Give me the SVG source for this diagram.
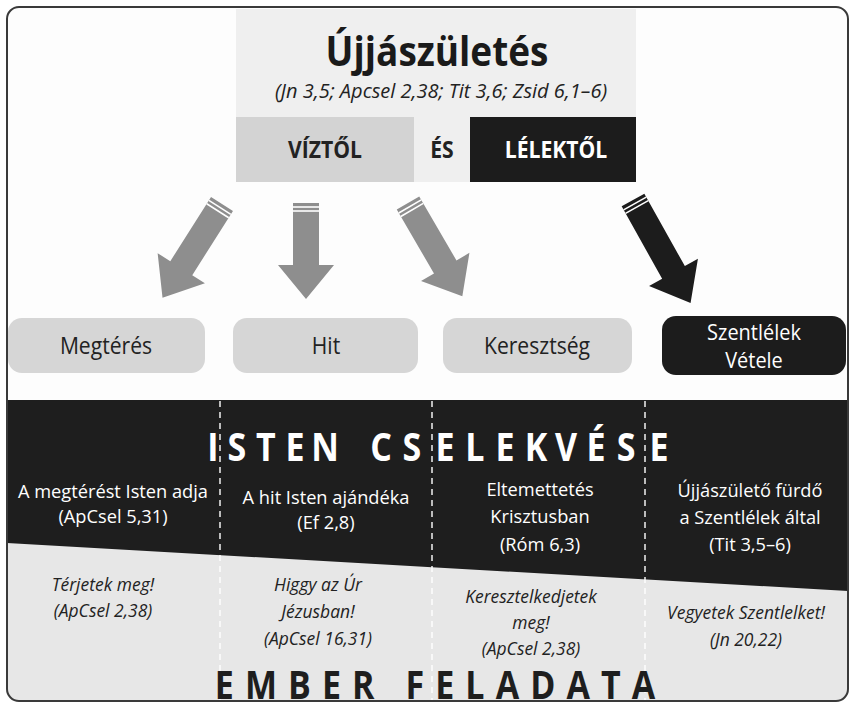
<svg xmlns="http://www.w3.org/2000/svg" width="854" height="704" viewBox="0 0 854 704">
<style>
text{font-family:"Open Sans","Noto Sans",sans-serif;text-anchor:middle}
.t{font-size:42px;font-weight:bold;fill:#1a1a1a}
.sub{font-size:20px;font-style:italic;fill:#222}
.hd{font-size:24px;font-weight:bold}
.nd{font-size:24px;fill:#222}
.ndw{font-size:21px;fill:#fff}
.w{font-size:19px;fill:#fff}
.k{font-size:19px;font-style:italic;fill:#222}
.big{font-size:40px;font-weight:bold}
.gray{fill:#8e8e8e}
.blk{fill:#1c1c1c}
.stripe{stroke:#fff;stroke-width:1.6}
.dash{stroke:#fff;stroke-width:1.4;stroke-dasharray:6 5;fill:none}
</style>
<rect x="0" y="0" width="854" height="704" fill="#fff"/>
<defs>
<clipPath id="fr"><rect x="7" y="7" width="841" height="694" rx="12"/></clipPath>
</defs>
<g id="background" clip-path="url(#fr)">
<rect x="7" y="7" width="841" height="694" fill="#fdfdfd"/>
<polygon points="7,400 848,400 848,702 7,702" fill="#e7e7e7"/>
<polygon points="7,400 848,400 848,591 7,543" fill="#1e1e1e"/>
</g>
<rect x="7" y="7" width="841" height="694" rx="12" fill="none" stroke="#3a3a3a" stroke-width="2"/>

<g id="title">
<rect x="236" y="9" width="400" height="173" fill="#efefef"/>
<text class="t" transform="translate(437,66) scale(0.88,1)">Újjászületés</text>
<text class="sub" x="441" y="98">(Jn 3,5; Apcsel 2,38; Tit 3,6; Zsid 6,1–6)</text>
</g>
<g id="viztol">
<rect x="236" y="117" width="178" height="65" fill="#d3d3d3"/>
<text class="hd" fill="#222" transform="translate(325,158) scale(0.88,1)">VÍZTŐL</text>
</g>
<g id="es"><text class="hd" fill="#222" transform="translate(442,158) scale(0.88,1)">ÉS</text></g>
<g id="lelektol">
<rect x="470" y="117" width="166" height="65" fill="#1c1c1c"/>
<text class="hd" fill="#fff" transform="translate(556,158) scale(0.88,1)">LÉLEKTŐL</text>
</g>

<g id="connectors">
<g transform="translate(222,204) rotate(32.4)">
<polygon class="gray" points="-13,0 13,0 13,76 28,76 0,111 -28,76 -13,76"/>
<line class="stripe" x1="-13" y1="4" x2="13" y2="4"/><line class="stripe" x1="-13" y1="8" x2="13" y2="8"/>
</g>
<g transform="translate(306,203)">
<polygon class="gray" points="-13,0 13,0 13,62 28,62 0,96 -28,62 -13,62"/>
<line class="stripe" x1="-13" y1="4" x2="13" y2="4"/><line class="stripe" x1="-13" y1="8" x2="13" y2="8"/>
</g>
<g transform="translate(408,203) rotate(-30.2)">
<polygon class="gray" points="-13,0 13,0 13,74 28,74 0,108 -28,74 -13,74"/>
<line class="stripe" x1="-13" y1="4" x2="13" y2="4"/><line class="stripe" x1="-13" y1="8" x2="13" y2="8"/>
</g>
<g transform="translate(633,200) rotate(-29.2)">
<polygon class="blk" points="-13,0 13,0 13,83 28,83 0,118 -28,83 -13,83"/>
<line class="stripe" x1="-13" y1="4" x2="13" y2="4"/><line class="stripe" x1="-13" y1="8" x2="13" y2="8"/>
</g>
</g>

<g id="megteres">
<rect x="8" y="318" width="197" height="55" rx="14" fill="#d6d6d6"/>
<text class="nd" transform="translate(106,354) scale(0.88,1)">Megtérés</text>
</g>
<g id="hit">
<rect x="233" y="318" width="185" height="55" rx="14" fill="#d6d6d6"/>
<text class="nd" transform="translate(326,354) scale(0.88,1)">Hit</text>
</g>
<g id="keresztseg">
<rect x="443" y="318" width="189" height="55" rx="14" fill="#d6d6d6"/>
<text class="nd" transform="translate(537,354) scale(0.88,1)">Keresztség</text>
</g>
<g id="szentlelek">
<rect x="662" y="316" width="184" height="59" rx="14" fill="#1c1c1c"/>
<text class="ndw" transform="translate(754,0) scale(0.95,1)"><tspan x="0" y="340">Szentlélek</tspan><tspan x="0" y="368">Vétele</tspan></text>
</g>

<g id="dividers">
<line class="dash" x1="220" y1="401" x2="220" y2="700"/>
<line class="dash" x1="432" y1="401" x2="432" y2="700"/>
<line class="dash" x1="645" y1="401" x2="645" y2="700"/>
</g>

<g id="isten">
<text class="big" fill="#fff" transform="translate(0,461) scale(0.85,1)" x="250.6 278.8 312.9 347.1 382.4 448.2 484.7 523.5 558.8 594.1 630.6 665.9 701.2 736.5 775.3" y="0">ISTENCSELEKVÉSE</text>
<text class="w" transform="translate(113,0) scale(0.96,1)"><tspan x="0" y="498">A megtérést Isten adja</tspan><tspan x="0" y="523">(ApCsel 5,31)</tspan></text>
<text class="w" transform="translate(326,0) scale(0.96,1)"><tspan x="0" y="504">A hit Isten ajándéka</tspan><tspan x="0" y="529">(Ef 2,8)</tspan></text>
<text class="w" transform="translate(540,0) scale(0.96,1)"><tspan x="0" y="496">Eltemettetés</tspan><tspan x="0" y="523">Krisztusban</tspan><tspan x="0" y="551">(Róm 6,3)</tspan></text>
<text class="w" transform="translate(750,0) scale(0.96,1)"><tspan x="0" y="497">Újjászülető fürdő</tspan><tspan x="0" y="524">a Szentlélek által</tspan><tspan x="0" y="551">(Tit 3,5–6)</tspan></text>
</g>

<g id="ember">
<text class="k" transform="translate(103,0) scale(0.92,1)"><tspan x="0" y="591">Térjetek meg!</tspan><tspan x="0" y="617">(ApCsel 2,38)</tspan></text>
<text class="k" transform="translate(318,0) scale(0.92,1)"><tspan x="0" y="591">Higgy az Úr</tspan><tspan x="0" y="618">Jézusban!</tspan><tspan x="0" y="645">(ApCsel 16,31)</tspan></text>
<text class="k" transform="translate(531,0) scale(0.92,1)"><tspan x="0" y="603">Keresztelkedjetek</tspan><tspan x="0" y="629">meg!</tspan><tspan x="0" y="655">(ApCsel 2,38)</tspan></text>
<text class="k" transform="translate(746,0) scale(0.92,1)"><tspan x="0" y="619">Vegyetek Szentlelket!</tspan><tspan x="0" y="646">(Jn 20,22)</tspan></text>
<text class="big" fill="#1e1e1e" transform="translate(435,699) scale(0.85,1)" x="0" y="0" textLength="518" lengthAdjust="spacing">EMBER FELADATA</text>
</g>
</svg>
